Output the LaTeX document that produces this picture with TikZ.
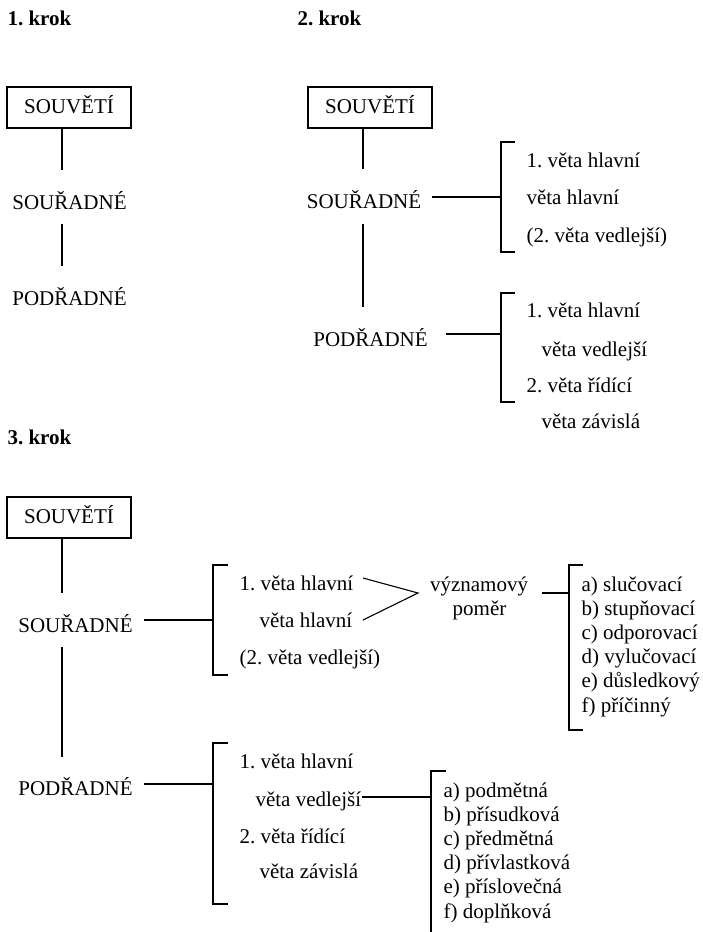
\documentclass[tikz,border=0pt]{standalone}
\usepackage{fontspec}
\setmainfont{Liberation Serif}
\frenchspacing
\begin{document}
\begin{tikzpicture}[x=1pt,y=-1pt,line width=1.1pt,
  txt/.style={anchor=base west,inner sep=0pt,font=\fontsize{21}{25}\selectfont},
  ctxt/.style={anchor=base,inner sep=0pt,font=\fontsize{21}{25}\selectfont},
  head/.style={anchor=base west,inner sep=0pt,font=\fontsize{21}{25}\selectfont\bfseries},
  boxnode/.style={draw,anchor=base,font=\fontsize{21}{25}\selectfont,text height=21pt,text depth=10pt,inner ysep=5pt,inner xsep=0pt,minimum width=124pt},
  lst/.style={anchor=base west,inner sep=0pt,font=\fontsize{21}{25}\selectfont}]
\useasboundingbox (0,0) rectangle (702,932);
\fill[white] (0,0) rectangle (702,932);

% ---------- 1. krok ----------
\node[head] (h1) at (7,25) {1. krok};
\node[boxnode] (b1) at (69,113) {SOUVĚTÍ};
\node[ctxt] (s1) at (69.5,209) {SOUŘADNÉ};
\node[ctxt] (p1) at (69.5,305) {PODŘADNÉ};
\coordinate (b1d) at (62,128);
\coordinate (s1u) at (62,170);
\coordinate (s1d) at (62,224);
\coordinate (p1u) at (62,266);
\draw (b1d) -- (s1u);
\draw (s1d) -- (p1u);

% ---------- 2. krok ----------
\node[head] (h2) at (297,25) {2. krok};
\node[boxnode] (b2) at (370,113) {SOUVĚTÍ};
\node[ctxt] (s2) at (364,208) {SOUŘADNÉ};
\node[ctxt] (p2) at (370.5,346) {PODŘADNÉ};
\coordinate (b2d) at (363,128);
\coordinate (s2u) at (363,169);
\coordinate (s2d) at (363,224);
\coordinate (p2u) at (363,307);
\draw (b2d) -- (s2u);
\draw (s2d) -- (p2u);
% bracket 1
\coordinate (s2r) at (432,197);
\coordinate (br2a) at (501,197);
\draw (s2r) -- (br2a);
\draw (515,142) -- (501,142) -- (501,252) -- (515,252);
\node[txt] (t2a) at (526,167) {1. věta hlavní};
\node[txt] (t2b) at (526,204) {věta hlavní};
\node[txt] (t2c) at (526,242) {(2. věta vedlejší)};
% bracket 2
\coordinate (p2r) at (446,334);
\coordinate (br2b) at (501,334);
\draw (p2r) -- (br2b);
\draw (515,293) -- (501,293) -- (501,402) -- (515,402);
\node[txt] (t2d) at (526,317) {1. věta hlavní};
\node[txt] (t2e) at (541,356) {věta vedlejší};
\node[txt] (t2f) at (526,392) {2. věta řídící};
\node[txt] (t2g) at (541,428) {věta závislá};

% ---------- 3. krok ----------
\node[head] (h3) at (7,444) {3. krok};
\node[boxnode] (b3) at (69,523) {SOUVĚTÍ};
\node[ctxt] (s3) at (75.5,632) {SOUŘADNÉ};
\node[ctxt] (p3) at (75.5,795) {PODŘADNÉ};
\coordinate (b3d) at (62,538);
\coordinate (s3u) at (62,593);
\coordinate (s3d) at (62,647);
\coordinate (p3u) at (62,757);
\draw (b3d) -- (s3u);
\draw (s3d) -- (p3u);
% bracket souřadné
\coordinate (s3r) at (144,620);
\coordinate (br3a) at (213,620);
\draw (s3r) -- (br3a);
\draw (228,565) -- (213,565) -- (213,675) -- (228,675);
\node[txt] (t3a) at (239,590) {1. věta hlavní};
\node[txt] (t3b) at (259,627) {věta hlavní};
\node[txt] (t3c) at (239,664) {(2. věta vedlejší)};
% angle
\coordinate (ang1) at (363,578);
\coordinate (ang2) at (363,620);
\coordinate (apex) at (418,593);
\draw (ang1) -- (apex) -- (ang2);
\node[ctxt] (vz) at (479,591) {významový};
\node[ctxt] (pm) at (479.5,615) {poměr};
\coordinate (vzr) at (542,593);
\coordinate (br3c) at (569,593);
\draw (vzr) -- (br3c);
\draw (583,565) -- (569,565) -- (569,730) -- (583,730);
\node[lst] (la) at (581,591) {a) slučovací};
\node[lst] (lb) at (581,615) {b) stupňovací};
\node[lst] (lc) at (581,639) {c) odporovací};
\node[lst] (ld) at (581,663) {d) vylučovací};
\node[lst] (le) at (581,687) {e) důsledkový};
\node[lst] (lf) at (581,712) {f) příčinný};
% bracket podřadné
\coordinate (p3r) at (144,784);
\coordinate (br3b) at (213,784);
\draw (p3r) -- (br3b);
\draw (228,743) -- (213,743) -- (213,904) -- (228,904);
\node[txt] (t3d) at (239,768) {1. věta hlavní};
\node[txt] (t3e) at (255,806) {věta vedlejší};
\node[txt] (t3f) at (239,843) {2. věta řídící};
\node[txt] (t3g) at (259,878) {věta závislá};
\coordinate (br3d) at (431,797);
\draw (t3e.east |- br3d) -- (br3d);
\draw (446,771) -- (431,771) -- (431,932);
\node[lst] (ma) at (443,797) {a) podmětná};
\node[lst] (mb) at (443,821) {b) přísudková};
\node[lst] (mc) at (443,845) {c) předmětná};
\node[lst] (md) at (443,869) {d) přívlastková};
\node[lst] (me) at (443,893) {e) příslovečná};
\node[lst] (mf) at (443,918) {f) doplňková};
\end{tikzpicture}
\end{document}
